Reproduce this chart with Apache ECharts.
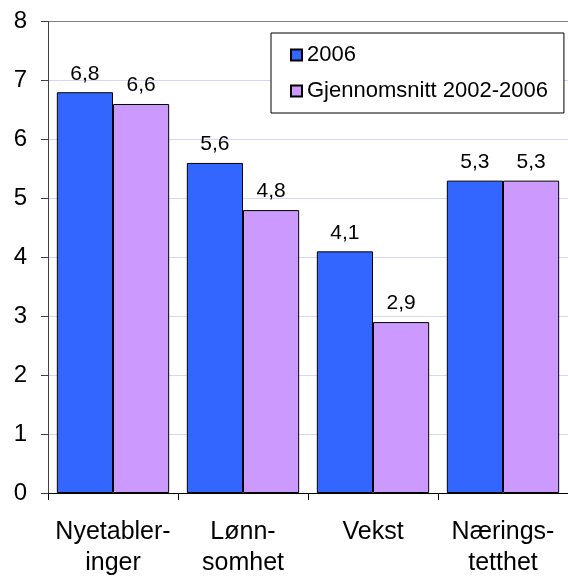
<!DOCTYPE html>
<html>
<head>
<meta charset="utf-8">
<script src="https://cdn.jsdelivr.net/npm/echarts@6/dist/echarts.min.js"></script>
<style>
  html, body { margin: 0; padding: 0; background: #fff; }
  #chart { width: 568px; height: 579px; }
</style>
</head>
<body>
<div id="chart"></div>
<script>
// Categories (line breaks as printed under the axis)
const categories = ['Nyetabler-\ninger', 'Lønn-\nsomhet', 'Vekst', 'Nærings-\ntetthet'];
// Series values
const values2006 = [6.8, 5.6, 4.1, 5.3];
const valuesAvg = [6.6, 4.8, 2.9, 5.3];
// Series names
const seriesNames = ['2006', 'Gjennomsnitt 2002-2006'];
// Y axis ticks
const yTicks = [0, 1, 2, 3, 4, 5, 6, 7, 8];

const FONT = 'Arial, "Liberation Sans", sans-serif';

const chart = echarts.init(document.getElementById('chart'), null, { renderer: 'canvas' });

const labelStyle = {
  show: true,
  position: 'top',
  distance: 8,
  color: '#000',
  fontFamily: FONT,
  fontSize: 21,
  formatter: p => String(p.value).replace('.', ',')
};

// Grid lines are pale lavender; the top one (value 8) is the gray plot border
const splitColors = yTicks.map((t, i) => i === yTicks.length - 1 ? '#808080' : '#d4d4ff');

chart.setOption({
  animation: false,
  backgroundColor: '#fff',
  grid: { left: 48, top: 21.5, width: 528, bottom: 82, containLabel: false },
  legend: {
    data: seriesNames,
    orient: 'vertical',
    left: 271,
    top: 33,
    padding: [11, 16, 11, 19],
    itemGap: 14,
    itemWidth: 11,
    itemHeight: 11,
    icon: 'rect',
    backgroundColor: '#fff',
    borderColor: '#000',
    borderWidth: 1,
    textStyle: { fontFamily: FONT, fontSize: 22, color: '#000', padding: [0, 0, 0, 0] }
  },
  xAxis: {
    type: 'category',
    data: categories,
    axisLine: { show: true, lineStyle: { color: '#000', width: 1 } },
    axisTick: { show: true, length: 7, lineStyle: { color: '#000' } },
    axisLabel: {
      fontFamily: FONT, fontSize: 25, color: '#000', margin: 24, lineHeight: 31,
      interval: 0
    },
    splitLine: { show: false }
  },
  yAxis: {
    type: 'value',
    min: 0,
    max: 8,
    interval: 1,
    axisLine: { show: true, lineStyle: { color: '#404040', width: 1 } },
    axisTick: { show: true, length: 7, inside: false, lineStyle: { color: '#404040' } },
    axisLabel: { fontFamily: FONT, fontSize: 24, color: '#000', margin: 21 },
    splitLine: { show: true, lineStyle: { color: splitColors, width: 1 } }
  },
  series: [
    {
      name: seriesNames[0],
      type: 'bar',
      data: values2006,
      barGap: '0%',
      barCategoryGap: '13.6%',
      itemStyle: { color: '#3366ff', borderColor: '#000', borderWidth: 1 },
      label: labelStyle
    },
    {
      name: seriesNames[1],
      type: 'bar',
      data: valuesAvg,
      barGap: '0%',
      barCategoryGap: '13.6%',
      itemStyle: { color: '#cc99ff', borderColor: '#000', borderWidth: 1 },
      label: labelStyle
    }
  ]
});
</script>
</body>
</html>
